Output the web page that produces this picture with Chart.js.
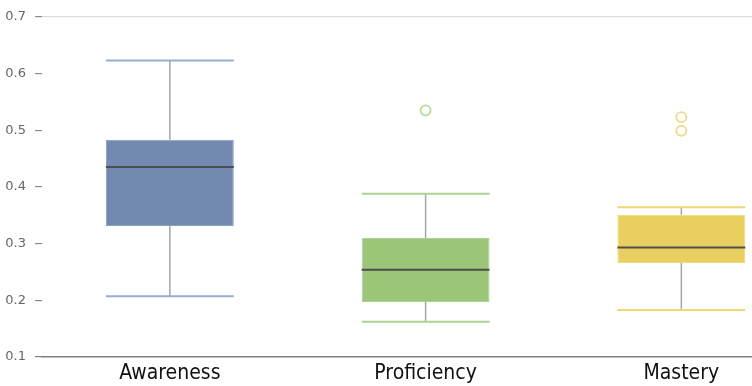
<!DOCTYPE html>
<html>
<head>
<meta charset="utf-8">
<script src="https://cdn.jsdelivr.net/npm/chart.js@4.4.1/dist/chart.umd.min.js"></script>
<style>
  html, body { margin: 0; padding: 0; background: #ffffff; overflow: hidden; }
  #wrap { position: relative; width: 816px; height: 386px; }
</style>
</head>
<body>
<div id="wrap"><canvas id="chart"></canvas></div>
<script>
// Skill levels and their five-number summaries
const categories = ['Awareness', 'Proficiency', 'Mastery'];
const whiskerLow = [0.207, 0.162, 0.183];
const quartile1  = [0.331, 0.197, 0.266];
const medians    = [0.435, 0.254, 0.293];
const quartile3  = [0.483, 0.310, 0.351];
const whiskerHigh = [0.623, 0.388, 0.364];
// Points beyond the whiskers (one array per outlier row)
const outliersA = [null, 0.535, 0.523];
const outliersB = [null, null, 0.499];
const yTicks = [0.1, 0.2, 0.3, 0.4, 0.5, 0.6, 0.7];

const boxFill   = ['#728ab2', '#9bc67a', '#e9cf5f'];
const boxEdge   = ['#8aa0c6', '#abd18e', '#efd978'];
const capColor  = ['#97acd2', '#a9d58b', '#f1d673'];
const dotColor  = ['#b3dc98', '#b3dc98', '#f0d98a'];

const boxes = categories.map((c, i) => [quartile1[i], quartile3[i]]);

// Draws whisker stems, caps and median lines on top of the floating bars
const boxPlotPlugin = {
  id: 'boxPlot',
  afterDatasetsDraw(chart) {
    const ctx = chart.ctx;
    const y = chart.scales.y;
    const meta = chart.getDatasetMeta(0);
    ctx.save();
    meta.data.forEach((bar, i) => {
      const cx = bar.x;
      const half = bar.width / 2;
      const left = cx - half, right = cx + half;
      // stems
      ctx.strokeStyle = '#a6a6a6';
      ctx.lineWidth = 1.5;
      ctx.beginPath();
      ctx.moveTo(cx, y.getPixelForValue(quartile3[i]));
      ctx.lineTo(cx, y.getPixelForValue(whiskerHigh[i]));
      ctx.moveTo(cx, y.getPixelForValue(quartile1[i]));
      ctx.lineTo(cx, y.getPixelForValue(whiskerLow[i]));
      ctx.stroke();
      // caps
      ctx.strokeStyle = capColor[i];
      ctx.lineWidth = 2;
      ctx.beginPath();
      const hy = y.getPixelForValue(whiskerHigh[i]);
      const ly = y.getPixelForValue(whiskerLow[i]);
      ctx.moveTo(left, hy); ctx.lineTo(right, hy);
      ctx.moveTo(left, ly); ctx.lineTo(right, ly);
      ctx.stroke();
      // median
      ctx.strokeStyle = '#4d4d4d';
      ctx.lineWidth = 2;
      ctx.beginPath();
      const my = y.getPixelForValue(medians[i]);
      ctx.moveTo(left, my); ctx.lineTo(right, my);
      ctx.stroke();
    });
    ctx.restore();
  }
};

new Chart(document.getElementById('chart'), {
  type: 'bar',
  data: {
    labels: categories,
    datasets: [
      {
        label: 'IQR',
        data: boxes,
        backgroundColor: boxFill,
        borderColor: boxEdge,
        borderWidth: 1,
        borderSkipped: false,
        barPercentage: 0.5,
        categoryPercentage: 1.0,
        order: 2
      },
      {
        type: 'line',
        label: 'Outliers',
        data: outliersA,
        showLine: false,
        pointRadius: 5,
        pointBorderWidth: 1.8,
        pointBorderColor: dotColor,
        pointBackgroundColor: 'rgba(255,255,255,0)',
        order: 1
      },
      {
        type: 'line',
        label: 'Outliers 2',
        data: outliersB,
        showLine: false,
        pointRadius: 5,
        pointBorderWidth: 1.8,
        pointBorderColor: dotColor,
        pointBackgroundColor: 'rgba(255,255,255,0)',
        order: 1
      }
    ]
  },
  options: {
    responsive: true,
    maintainAspectRatio: false,
    animation: false,
    layout: { padding: { top: 15, right: 2, left: 0, bottom: 0 } },
    plugins: {
      legend: { display: false },
      tooltip: { enabled: false }
    },
    scales: {
      x: {
        offset: true,
        grid: { display: false, drawTicks: false },
        border: { display: true, color: '#7f7f7f', width: 1.5 },
        ticks: {
          color: '#111111',
          padding: 4,
          font: { family: 'DejaVu Sans Condensed', size: 21 }
        },
        afterFit(scale) { scale.height = 29; }
      },
      y: {
        min: 0.1,
        max: 0.7,
        afterBuildTicks(scale) { scale.ticks = yTicks.map(v => ({ value: v })); },
        border: { display: false },
        grid: {
          drawOnChartArea: true,
          color: (c) => (c.tick && Math.abs(c.tick.value - 0.7) < 1e-9) ? '#dcdcdc' : 'rgba(0,0,0,0)',
          tickColor: (c) => (c.tick && Math.abs(c.tick.value - 0.1) < 1e-9) ? '#7f7f7f' : '#8c8c8c',
          tickLength: 7,
          lineWidth: 1.2
        },
        ticks: {
          color: '#666666',
          padding: 9,
          font: { family: 'DejaVu Sans', size: 13 },
          callback: (v) => Number(v).toFixed(1)
        },
        afterFit(scale) { scale.width = 42; }
      }
    }
  },
  plugins: [boxPlotPlugin]
});
</script>
</body>
</html>
